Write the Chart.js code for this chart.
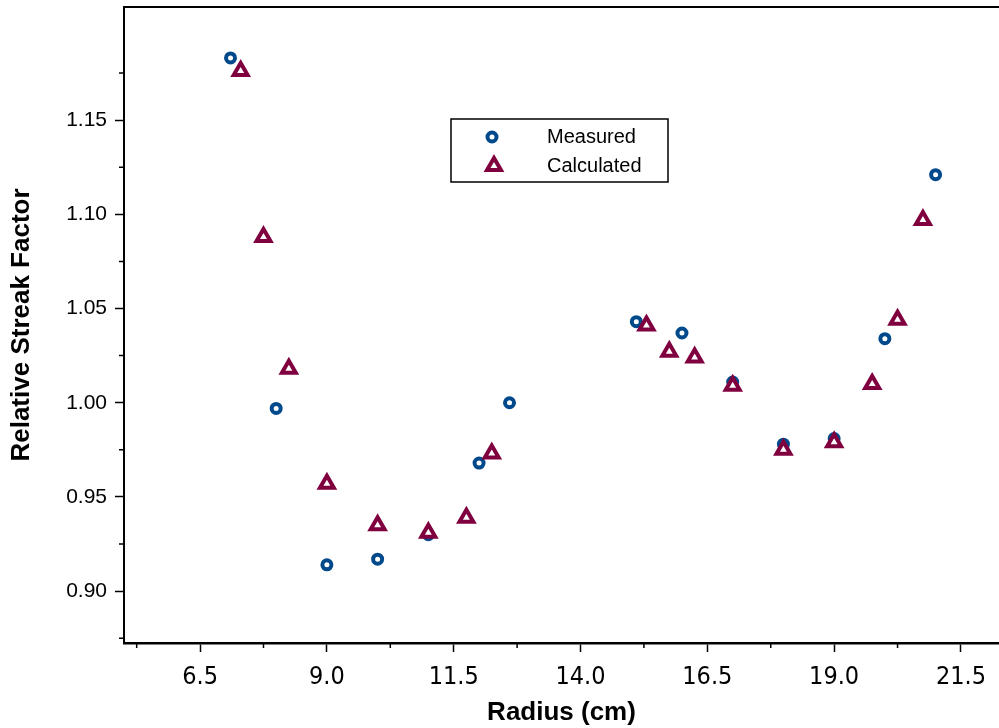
<!DOCTYPE html>
<html>
<head>
<meta charset="utf-8">
<script src="https://cdn.jsdelivr.net/npm/chart.js@4.4.1/dist/chart.umd.min.js"></script>
<style>
  html, body { margin: 0; padding: 0; background: #fff; }
  #wrap { width: 999px; height: 728px; }
</style>
</head>
<body>
<div id="wrap"><canvas id="streakChart" width="999" height="728"></canvas></div>
<script>
// radius (cm) and relative streak factor
const measuredX = [7.1, 8.0, 9.0, 10.0, 11.0, 12.0, 12.6, 15.1, 16.0, 17.0, 18.0, 19.0, 20.0, 21.0];
const measuredY = [1.183, 0.997, 0.914, 0.917, 0.930, 0.968, 1.000, 1.043, 1.037, 1.011, 0.978, 0.981, 1.034, 1.121];

const calculatedX = [7.3, 7.75, 8.25, 9.0, 10.0, 11.0, 11.75, 12.25, 15.3, 15.75, 16.25, 17.0, 18.0, 19.0, 19.75, 20.25, 20.75];
const calculatedY = [1.176, 1.088, 1.018, 0.957, 0.935, 0.931, 0.939, 0.973, 1.041, 1.027, 1.024, 1.009, 0.975, 0.979, 1.010, 1.044, 1.097];

// axis ticks
const xTicks = [6.5, 9.0, 11.5, 14.0, 16.5, 19.0, 21.5];
const xMinorTicks = [5.25, 7.75, 10.25, 12.75, 15.25, 17.75, 20.25];
const yTicks = [0.90, 0.95, 1.00, 1.05, 1.10, 1.15];
const yMinorTicks = [0.875, 0.925, 0.975, 1.025, 1.075, 1.125, 1.175];

const blue = '#00498b';
const maroon = '#80003f';

function toPoints(xs, ys) {
    return xs.map((x, i) => ({x: x, y: ys[i]}));
}

// short minor ticks + top frame line
const frameAndMinor = {
    id: 'frameAndMinor',
    afterDraw(chart) {
        const ctx = chart.ctx;
        const area = chart.chartArea;
        const xs = chart.scales.x, ys = chart.scales.y;
        ctx.save();
        ctx.strokeStyle = '#000';
        ctx.lineWidth = 2;
        ctx.beginPath();
        ctx.moveTo(area.left - 1, area.top);
        ctx.lineTo(area.right, area.top);
        ctx.stroke();
        ctx.lineWidth = 1.5;
        ctx.beginPath();
        xMinorTicks.forEach(v => {
            const px = xs.getPixelForValue(v);
            ctx.moveTo(px, area.bottom);
            ctx.lineTo(px, area.bottom + 5);
        });
        yMinorTicks.forEach(v => {
            const py = ys.getPixelForValue(v);
            ctx.moveTo(area.left, py);
            ctx.lineTo(area.left - 5, py);
        });
        ctx.stroke();
        ctx.restore();
    }
};

// boxed legend inside the plot
const boxLegend = {
    id: 'boxLegend',
    afterDraw(chart) {
        const ctx = chart.ctx;
        ctx.save();
        ctx.strokeStyle = '#000';
        ctx.lineWidth = 1.5;
        ctx.strokeRect(451, 119, 217, 63);
        const rows = [137, 166];
        chart.data.datasets.forEach((ds, i) => {
            const y = rows[i];
            ctx.fillStyle = '#fff';
            ctx.strokeStyle = ds.borderColor;
            ctx.lineWidth = ds.borderWidth;
            Chart.helpers.drawPoint(ctx, {
                pointStyle: ds.pointStyle,
                radius: ds.pointRadius,
                rotation: 0,
                borderWidth: ds.borderWidth
            }, i === 0 ? 492 : 494, y);
            ctx.fillStyle = '#000';
            ctx.font = '20px "Liberation Sans", Arial, sans-serif';
            ctx.textBaseline = 'middle';
            ctx.textAlign = 'left';
            ctx.fillText(ds.label, 547, y);
        });
        ctx.restore();
    }
};

Chart.defaults.font.family = '"Liberation Sans", Arial, sans-serif';
Chart.defaults.color = '#000';

new Chart(document.getElementById('streakChart'), {
    type: 'scatter',
    data: {
        datasets: [
            {
                label: 'Measured',
                data: toPoints(measuredX, measuredY),
                pointStyle: 'circle',
                pointRadius: 4.5,
                borderWidth: 4,
                borderColor: blue,
                backgroundColor: '#fff',
                order: 2
            },
            {
                label: 'Calculated',
                data: toPoints(calculatedX, calculatedY),
                pointStyle: 'triangle',
                pointRadius: 8,
                borderWidth: 4,
                borderColor: maroon,
                backgroundColor: '#fff',
                order: 1
            }
        ]
    },
    options: {
        responsive: false,
        animation: false,
        layout: { autoPadding: false, padding: { top: 7, right: 0, left: 0, bottom: 0 } },
        scales: {
            x: {
                type: 'linear',
                min: 5.0,
                max: 22.25,
                afterBuildTicks: scale => { scale.ticks = xTicks.map(v => ({value: v})); },
                afterFit: scale => {
                    scale.height = 85;
                    scale.paddingLeft = 0;
                    scale.paddingRight = 0;
                },
                ticks: {
                    callback: v => v.toFixed(1),
                    font: { family: '"Liberation Sans Narrow", "DejaVu Sans Condensed", sans-serif', size: 25 },
                    padding: 10,
                    maxRotation: 0
                },
                grid: { drawOnChartArea: false, tickLength: 9, tickColor: '#000', tickWidth: 1.5 },
                border: { color: '#000', width: 2.5 },
                title: {
                    display: true,
                    text: 'Radius (cm)',
                    font: { size: 26, weight: 'bold' },
                    padding: 0
                }
            },
            y: {
                min: 0.8725,
                max: 1.21,
                afterBuildTicks: scale => { scale.ticks = yTicks.map(v => ({value: v})); },
                afterFit: scale => {
                    scale.width = 124;
                    scale.paddingTop = 0;
                    scale.paddingBottom = 0;
                },
                ticks: {
                    callback: v => v.toFixed(2),
                    font: { size: 21 },
                    padding: 8
                },
                grid: { drawOnChartArea: false, tickLength: 9, tickColor: '#000', tickWidth: 1.5 },
                border: { color: '#000', width: 2 },
                title: {
                    display: true,
                    text: 'Relative Streak Factor',
                    font: { size: 26, weight: 'bold' },
                    padding: { top: 6, bottom: 0 }
                }
            }
        },
        plugins: {
            legend: { display: false },
            tooltip: { enabled: false }
        }
    },
    plugins: [frameAndMinor, boxLegend]
});
</script>
</body>
</html>
